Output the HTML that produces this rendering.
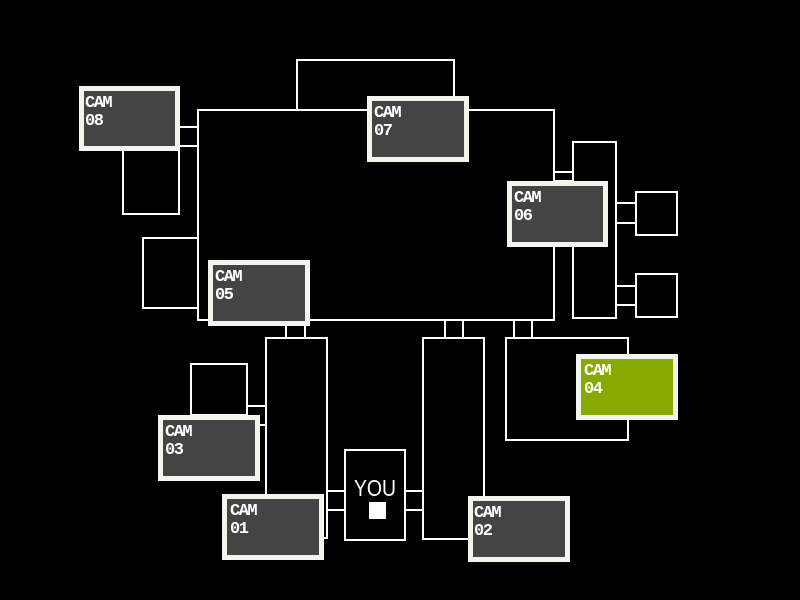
<!DOCTYPE html>
<html><head><meta charset="utf-8"><style>
html,body{margin:0;padding:0;background:#000;width:800px;height:600px;overflow:hidden}
svg{display:block}
.l{fill:none;stroke:#fff;stroke-width:2}
.cb{fill:#444;stroke:#f4f4ee;stroke-width:5}
.t{font-family:"Liberation Mono",monospace;font-weight:bold;font-size:17px;fill:#fff;letter-spacing:-1.5px}
</style></head><body>
<svg width="800" height="600" viewBox="0 0 800 600">
<rect class="l" x="198" y="110" width="356" height="210"/>
<rect class="l" x="297" y="60" width="157" height="50"/>
<rect class="l" x="123" y="150" width="56" height="64"/>
<rect class="l" x="143" y="238" width="55" height="70"/>
<rect class="l" x="573" y="142" width="43" height="176"/>
<rect class="l" x="636" y="192" width="41" height="43"/>
<rect class="l" x="636" y="274" width="41" height="43"/>
<rect class="l" x="266" y="338" width="61" height="200"/>
<rect class="l" x="423" y="338" width="61" height="201"/>
<rect class="l" x="506" y="338" width="122" height="102"/>
<rect class="l" x="191" y="364" width="56" height="51"/>
<rect class="l" x="345" y="450" width="60" height="90"/>
<path class="l" d="M180 127H198M180 146H198M554 172H573M554 181H573M616 203H636M616 223H636M616 286H636M616 305H636M286 320V338M305 320V338M445 320V338M463 320V338M514 320V338M532 320V338M247 406H266M247 425H266M327 491H345M327 510H345M405 491H423M405 510H423"/>
<rect class="cb" x="81.5" y="88.5" width="96" height="60"/>
<text class="t" x="85" y="107">CAM</text><text class="t" x="85" y="125">08</text>
<rect class="cb" x="369.5" y="98.5" width="97" height="61"/>
<text class="t" x="374" y="117">CAM</text><text class="t" x="374" y="135">07</text>
<rect class="cb" x="509.5" y="183.5" width="96" height="61"/>
<text class="t" x="514" y="202">CAM</text><text class="t" x="514" y="220">06</text>
<rect class="cb" x="210.5" y="262.5" width="97" height="61"/>
<text class="t" x="215" y="281">CAM</text><text class="t" x="215" y="299">05</text>
<rect x="578.5" y="356.5" width="97" height="61" fill="#88aa00" stroke="#f4f4ee" stroke-width="5"/>
<text class="t" x="584" y="375">CAM</text><text class="t" x="584" y="393">04</text>
<rect class="cb" x="160.5" y="417.5" width="97" height="61"/>
<text class="t" x="165" y="436">CAM</text><text class="t" x="165" y="454">03</text>
<rect class="cb" x="224.5" y="496.5" width="97" height="61"/>
<text class="t" x="230" y="515">CAM</text><text class="t" x="230" y="533">01</text>
<rect class="cb" x="470.5" y="498.5" width="97" height="61"/>
<text class="t" x="474" y="517">CAM</text><text class="t" x="474" y="535">02</text>
<text x="375" y="496" text-anchor="middle" font-family="Liberation Sans,sans-serif" font-size="23" fill="#fff" textLength="42" lengthAdjust="spacingAndGlyphs">YOU</text>
<rect x="369" y="502" width="17" height="17" fill="#fff"/>
</svg>
</body></html>
